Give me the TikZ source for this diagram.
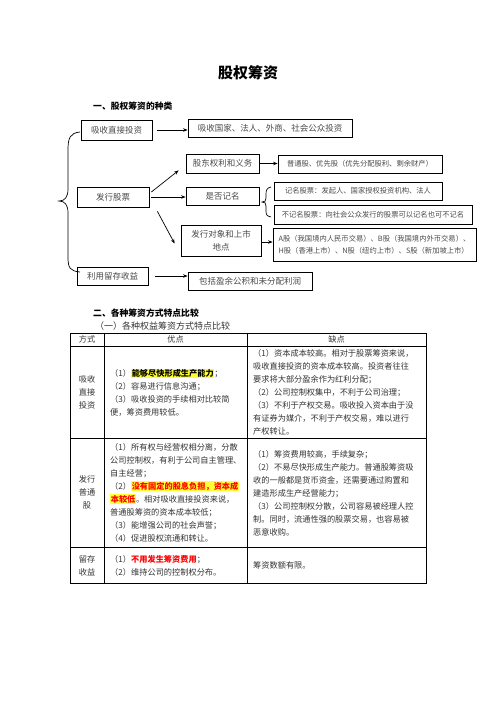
\documentclass[tikz,border=0pt]{standalone}
\usepackage{fontspec}
\setmainfont{Noto Sans CJK SC}
\usetikzlibrary{arrows.meta}
\definecolor{ChartText}{HTML}{4A4A4A}
\definecolor{TableText}{HTML}{333333}
\definecolor{MarkYellow}{HTML}{FFFF33}
\definecolor{MarkRed}{HTML}{FF0000}
\newcommand{\hlmark}[1]{{\setlength{\fboxsep}{0.6pt}\colorbox{MarkYellow}{#1}}}

\begin{document}
\begin{tikzpicture}[x=1pt,y=-1pt,
    box/.style={draw,line width=0.8pt,inner sep=0pt,text=ChartText,align=center,font=\fontsize{8.5}{13}\selectfont},
    smallbox/.style={box,font=\fontsize{7.3}{12}\selectfont},
    link/.style={-{Stealth[length=4.5pt,width=3.5pt]},line width=0.7pt},
    cell/.style={text=TableText,font=\fontsize{8.2}{13}\selectfont,inner sep=0pt,align=left,anchor=west},
    head/.style={font=\bfseries\fontsize{8.8}{11}\selectfont,anchor=west,inner sep=0pt}]
    \fill[white] (0,0) rectangle (496,702);
    \useasboundingbox (0,0) rectangle (496,702);

    % title and headings
    \node[font=\bfseries\fontsize{15}{18}\selectfont] (title) at (248,73) {股权筹资};
    \node[head] (headA) at (93,106) {一、股权筹资的种类};
    \node[head] (headB) at (93,313) {二、各种筹资方式特点比较};
    \node[cell,font=\fontsize{9}{11}\selectfont] (headC) at (95,326) {（一）各种权益筹资方式特点比较};

    % kinds of equity financing
    \node[box,minimum width=71pt,minimum height=20pt] (zhijie) at (116.5,130) {吸收直接投资};
    \node[box,minimum width=164pt,minimum height=18pt] (zhijieR) at (270,128) {吸收国家、法人、外商、社会公众投资};
    \node[box,minimum width=72pt,minimum height=20pt] (gupiao) at (113,197) {发行股票};
    \node[box,minimum width=73pt,minimum height=19pt] (quanli) at (222.5,163.5) {股东权利和义务};
    \node[smallbox,minimum width=164pt,minimum height=18pt] (quanliR) at (360,164) {普通股、优先股（优先分配股利、剩余财产）};
    \node[box,minimum width=73pt,minimum height=18pt] (jiming) at (222.5,196) {是否记名};
    \node[smallbox,minimum width=168pt,minimum height=18pt] (jimingA) at (358,191) {记名股票：发起人、国家授权投资机构、法人};
    \node[smallbox,minimum width=198pt,minimum height=19pt] (jimingB) at (373,214.5) {不记名股票：向社会公众发行的股票可以记名也可不记名};
    \node[box,minimum width=80pt,minimum height=31pt] (duixiang) at (221,240.5) {发行对象和上市\\地点};
    \node[smallbox,align=left,minimum width=203pt,minimum height=33pt] (duixiangR) at (374.5,244.5) {A股（我国境内人民币交易）、B股（我国境内外币交易）、\\H股（香港上市）、N股（纽约上市）、S股（新加坡上市）};
    \node[box,minimum width=71pt,minimum height=18pt] (liucun) at (112.5,276) {利用留存收益};
    \node[box,minimum width=124pt,minimum height=18pt] (liucunR) at (250,281) {包括盈余公积和未分配利润};

    \draw[link,shorten <=5pt] (zhijie.east) -- (zhijie.east -| zhijieR.west);
    \draw[link] ([xshift=2pt,yshift=5pt]gupiao.east) -- ([xshift=-7pt,yshift=3pt]quanli.south west);
    \draw[link,shorten <=2pt] (gupiao.east) -- (gupiao.east -| jiming.west);
    \draw[link] ([xshift=8pt,yshift=-4pt]gupiao.south east) -- ([xshift=-6pt,yshift=-3pt]duixiang.west);
    \draw[link] (quanli.east) -- (quanli.east -| quanliR.west);
    \draw[link] ([yshift=-1.5pt]duixiang.east) -- ([yshift=-1.5pt]duixiang.east -| duixiangR.west);
    \draw[link,shorten <=7pt] (liucun.east) -- (liucun.east -| liucunR.west);

    % braces
    \draw[line width=0.7pt] (80,132) .. controls (70,133) and (68,138) .. (68,150) -- (68,189)
      .. controls (68,197) and (65,201) .. (59,201) .. controls (65,201) and (68,205) .. (68,213)
      -- (68,257) .. controls (68,268) and (70,271) .. (80,272);
    \draw[line width=0.7pt] (271,187) .. controls (267,188) and (266,190) .. (266,194) -- (266,198)
      .. controls (266,201) and (265,202) .. (262,202) .. controls (265,202) and (266,203) .. (266,206)
      -- (266,211) .. controls (266,215) and (267,216) .. (271,217);

    % comparison table
    \draw[line width=0.8pt] (70,333) rectangle (426,583);
    \draw[line width=0.8pt] (104,333) -- (104,583);
    \draw[line width=0.8pt] (247,333) -- (247,583);
    \foreach \y in {346,438,547}
      \draw[line width=0.8pt] (70,\y) -- (426,\y);

    \node[cell,anchor=center] (hWay) at (87,339.5) {方式};
    \node[cell,anchor=center] (hPro) at (175.5,339.5) {优点};
    \node[cell,anchor=center] (hCon) at (336.5,339.5) {缺点};

    \node[cell,anchor=center,align=center] (wayA) at (87,392) {吸收\\直接\\投资};
    \node[cell] (proA) at (110,392.5) {（1）\hlmark{\textbf{\color{black}能够尽快形成生产能力}}；\\（2）容易进行信息沟通；\\（3）吸收投资的手续相对比较简\\便，筹资费用较低。};
    \node[cell] (conA) at (253,392) {（1）资本成本较高。相对于股票筹资来说，\\吸收直接投资的资本成本较高。投资者往往\\要求将大部分盈余作为红利分配；\\（2）公司控制权集中，不利于公司治理；\\（3）不利于产权交易。吸收投入资本由于没\\有证券为媒介，不利于产权交易，难以进行\\产权转让。};

    \node[cell,anchor=center,align=center] (wayB) at (87,492.5) {发行\\普通\\股};
    \node[cell] (proB) at (110,492.5) {（1）所有权与经营权相分离，分散\\公司控制权，有利于公司自主管理、\\自主经营；\\（2）\hlmark{\textbf{\color{MarkRed}没有固定的股息负担，资本成}}\\\hlmark{\textbf{\color{MarkRed}本较低}}。相对吸收直接投资来说，\\普通股筹资的资本成本较低；\\（3）能增强公司的社会声誉；\\（4）促进股权流通和转让。};
    \node[cell] (conB) at (253,493) {（1）筹资费用较高，手续复杂；\\（2）不易尽快形成生产能力。普通股筹资吸\\收的一般都是货币资金，还需要通过购置和\\建造形成生产经营能力；\\（3）公司控制权分散，公司容易被经理人控\\制。同时，流通性强的股票交易，也容易被\\恶意收购。};

    \node[cell,anchor=center,align=center] (wayC) at (87,565.5) {留存\\收益};
    \node[cell] (proC) at (110,565.5) {（1）\textbf{\color{MarkRed}不用发生筹资费用}；\\（2）维持公司的控制权分布。};
    \node[cell] (conC) at (253,565) {筹资数额有限。};
\end{tikzpicture}
\end{document}
